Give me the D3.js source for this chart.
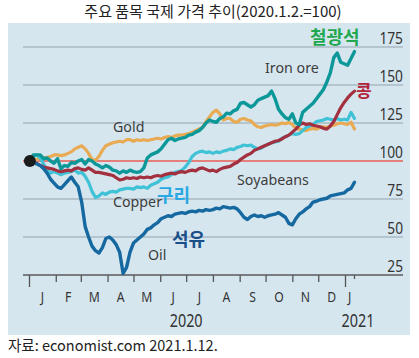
<!DOCTYPE html>
<html><head><meta charset="utf-8">
<script src="https://cdn.jsdelivr.net/npm/d3@7"></script>
<style>body{margin:0;background:#fff}svg{display:block}</style>
</head><body><svg id="c" width="419" height="358"></svg>
<script>
// ---------- data ----------
const startDate = "2020-01-02";   // first observation, every 4 days to 2021-01-12
const stepDays = 4;
const yTicks = [25, 50, 75, 100, 125, 150, 175];
const monthLabels = ["J","F","M","A","M","J","J","A","S","O","N","D","J"];
const yearLabels = ["2020", "2021"];

const oil = [100,99.5,98,97,95,92,88,85.5,83,82,
 84.5,87,89.5,86,83,73,57,50,44,41,
 39.5,43,49,50,48,45,40,26,30,40,
 46,48,50,52,55,56,58,59.5,62,63,
 64,63.5,65,65.5,66,65.5,66.5,67,66.5,67.5,
 67,68,67.5,68,69,68.5,70,69.5,69,69.5,
 68.5,66,63,61.5,63.5,64.5,63.5,64,63,64,
 64.5,65,66,64.5,63,59,58,62,65,66.5,
 68.5,70,73,73.5,74.5,75,75.5,77,77.5,78,
 78.5,79,81,82,86];
const copper = [100,103,104,102,98,94,92,93,92,91,
 92,92.5,93,94,92,92.5,90,86,80,76,
 77,79,78,79.5,80,79.5,81,81.5,82,82,
 81.5,83,82.5,83,82,84,85,86,88,89,
 89.5,91,92.5,93,94,96,99,103,105,106,
 106.5,105.5,106,105,106,105.5,106.5,107,108,107.5,
 109,109.5,110.5,110,110.5,109,108,108.5,110,111,
 112,112.5,113,115,116,117,118,117.5,118,120,
 122,123,124,126,126.5,127,128,127.5,127,128,
 127,127.5,127,132,128];
const gold = [100,100.5,101,102,102,102.5,103,104,104,103.5,
 104,105,106,108,109,110,108,105,101,100.5,
 103,107,110,111,112,112.5,113,112.5,114,114,
 113,114,113.5,114,113.5,114,114.5,115,114.5,115.5,
 116,115.5,116.5,117,117,117.5,118,119,120,121,
 122,126,129,132,133.5,131,127,128,128,126,
 125.5,127.5,128,127,126.5,124,122.5,122,123,123.5,
 124,123.5,124,125,124.5,125.5,124,121.5,121,120.5,
 120,121,121.5,121,122,122.5,122,123,123.5,124.5,
 125,124.5,124,125.5,121];
const soyabeans = [100,99,98.5,97,96,95.5,95,94.5,93.5,93,
 93.5,94,93.5,95,95.5,94.5,94,95.5,94,92.5,
 92.5,92,91.5,91,90.5,89,87.5,88,89,88.5,
 89,88.5,89.5,89,89.5,89,90,90.5,90,91,
 91.5,92,91.5,92.5,93,92.5,93.5,94,93.5,95,
 95.5,94.5,93.5,94,93,94.5,95.5,96,96.5,98,
 99,101,102.5,104,105,107,108,109,110,111,
 112,113,113.5,114.5,116,117,119,121,123.5,125,
 124,124.5,123.5,123,122.5,121.5,121,123,126,130.5,
 135,138.5,141.5,144,146];
const ironOre = [100,104,104,104,101.5,102,100,98.5,101.5,95,
 97,96.5,99,98.5,100,101,98,101,100,98,
 97,95.5,97,96,94,93.5,92,93.5,92.5,94,
 93,92.5,93,95.5,102,104,105,106,108,111,
 114,115,113.5,114.5,115,115.5,117,117.5,119,120,
 122,125,127,126,125.5,128,129,131.5,131,133,
 134,138,138.5,137,135.5,137,140,141,142,143,
 146,141,134,131,128.5,127.5,131,125,124,132,
 134,136,138,141,144,147,152,158,168,171,
 165,164,163,167.5,172];

// ---------- setup ----------
const parse = d3.utcParse("%Y-%m-%d");
const t0 = parse(startDate);
const dates = d3.range(oil.length).map(k => d3.utcDay.offset(t0, k * stepDays));
const endDate = dates[dates.length - 1];

const svg = d3.select("#c");
const x = d3.scaleUtc().domain([parse("2020-01-01"), parse("2021-01-01")]).range([29, 345]);
const y = d3.scaleLinear().domain([25, 175]).range([275, 47]);
const gridX0 = 23, gridX1 = 403;

function label(px, py, str, o) {
  const g = svg.append("g").attr("transform", `translate(${px},${py}) scale(${o.sx || 1},1)`);
  g.append("text").attr("text-anchor", o.anchor || "start")
    .attr("fill", o.fill || "#333")
    .style("font-family", o.family || "'Noto Sans', sans-serif")
    .style("font-size", o.size + "px")
    .style("font-weight", o.weight || 400)
    .text(str);
}

// panel
svg.append("rect").attr("x", 8).attr("y", 23).attr("width", 402).attr("height", 312).attr("fill", "#d6e6ef");

// title & source
label(213, 17, "주요 품목 국제 가격 추이(2020.1.2.=100)", {anchor: "middle", size: 15, fill: "#222", family: "'Noto Sans CJK KR', sans-serif"});
label(8, 351, "자료: economist.com 2021.1.12.", {size: 14.5, fill: "#222", family: "'Noto Sans CJK KR', sans-serif"});

// gridlines
svg.append("g").selectAll("line").data(yTicks.filter(v => v !== 25 && v !== 100)).join("line")
  .attr("x1", gridX0).attr("x2", gridX1).attr("y1", d => y(d)).attr("y2", d => y(d))
  .attr("stroke", "#a9bac5").attr("stroke-width", 1.3);
svg.append("line").attr("x1", gridX0).attr("x2", gridX1).attr("y1", y(100)).attr("y2", y(100))
  .attr("stroke", "#e3807c").attr("stroke-width", 1.8);

// y labels
yTicks.forEach(v => label(gridX1, y(v) - 3.5, String(v), {anchor: "end", size: 16, sx: 0.86, fill: "#333"}));

// x axis
const months = d3.utcMonth.range(parse("2020-01-01"), parse("2021-01-02"));
const xAxis = d3.axisBottom(x).tickValues(months).tickSize(7).tickFormat("").tickSizeOuter(0);
const ax = svg.append("g").attr("transform", `translate(0,${y(25)})`).call(xAxis);
ax.select(".domain").remove();
ax.selectAll(".tick line").attr("stroke", "#555").attr("stroke-width", 1.3)
  .attr("y2", d => (d.getUTCMonth() === 0 ? 12 : 7));
svg.append("line").attr("x1", x(endDate)).attr("x2", x(endDate)).attr("y1", y(25)).attr("y2", y(25) + 4)
  .attr("stroke", "#555").attr("stroke-width", 1.3);
svg.append("line").attr("x1", gridX0).attr("x2", gridX1).attr("y1", y(25)).attr("y2", y(25))
  .attr("stroke", "#5a5a5a").attr("stroke-width", 1.5);

monthLabels.forEach((m, i) => {
  let cx;
  if (i < 12) cx = (x(months[i]) + x(d3.utcMonth.offset(months[i], 1))) / 2;
  else cx = (x(months[12]) + x(endDate)) / 2;
  label(cx, 302, m, {anchor: "middle", size: 14, sx: 0.87, fill: "#333"});
});
label(x(parse("2020-07-01")), 327, yearLabels[0], {anchor: "middle", size: 18, sx: 0.8, fill: "#333"});
label(x(parse("2021-01-16")), 327, yearLabels[1], {anchor: "middle", size: 18, sx: 0.8, fill: "#333"});

// lines
const line = d3.line().x((d, i) => x(dates[i])).y(d => y(d)).curve(d3.curveLinear);
const series = [
  {v: gold, c: "#e8ab53", w: 3.2},
  {v: copper, c: "#3fc2d5", w: 3.2},
  {v: soyabeans, c: "#a3303f", w: 3.2},
  {v: ironOre, c: "#0c9899", w: 3.4},
  {v: oil, c: "#1669a0", w: 3.4}
];
svg.append("g").selectAll("path").data(series).join("path")
  .attr("d", s => line(s.v)).attr("fill", "none")
  .attr("stroke", s => s.c).attr("stroke-width", s => s.w)
  .attr("stroke-linejoin", "round").attr("stroke-linecap", "round");

svg.append("circle").attr("cx", x(dates[0])).attr("cy", y(oil[0])).attr("r", 6).attr("fill", "#1b1b1b");

// series labels
const en = {size: 15, sx: 0.95, fill: "#3d3d3d"};
label(113, 132, "Gold", en);
label(265, 73, "Iron ore", en);
label(237, 185, "Soyabeans", en);
label(113, 207, "Copper", en);
label(148, 260, "Oil", en);
const kr = "'Noto Sans CJK KR', sans-serif";
label(310, 44, "철광석", {size: 18, weight: 700, fill: "#1fa84f", family: kr});
label(356, 97, "콩", {size: 17, weight: 700, fill: "#b3243a", family: kr});
label(157, 202, "구리", {size: 18, weight: 700, fill: "#2aa8e2", family: kr});
label(172, 246, "석유", {size: 18, weight: 700, fill: "#1b4f8a", family: kr});
</script></body></html>
